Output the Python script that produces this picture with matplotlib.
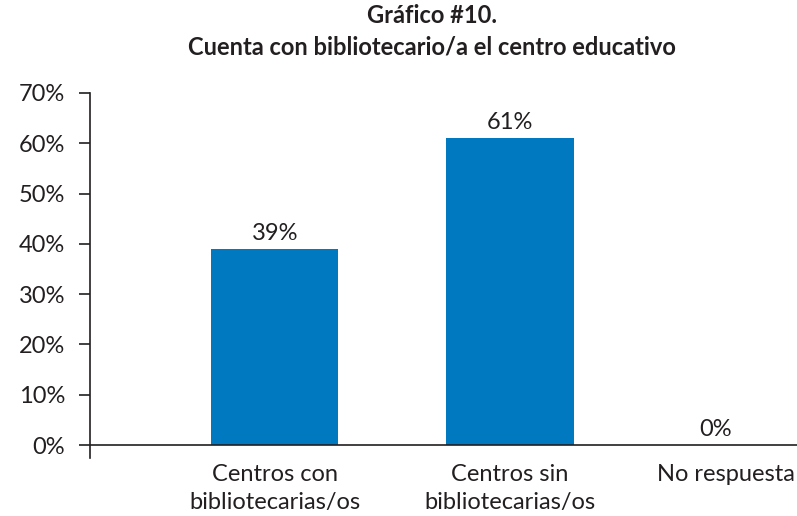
import numpy as np
import matplotlib.pyplot as plt
from matplotlib.transforms import ScaledTranslation

plt.rcParams['font.family'] = ['Lato', 'DejaVu Sans']

# Datos del grafico
categorias = ["Centros con\nbibliotecarias/os", "Centros sin\nbibliotecarias/os", "No respuesta"]
valores = [39, 61, 0]
posiciones = [0, 1, 1.875]
yticks = [0, 10, 20, 30, 40, 50, 60, 70]

AZUL = "#0079C1"
TEXTO = "#231f20"

fig = plt.figure(figsize=(7.97, 5.16), dpi=100)
ax = fig.add_axes([0.113, 0.112, 0.887, 0.708])

ax.bar(posiciones, valores, width=0.54, color=AZUL, zorder=2)

for x, v in zip(posiciones, valores):
    ax.text(x, v + 1.0, f"{v}%", ha="center", va="bottom", fontsize=17, color=TEXTO)

ax.set_xlim(-0.785, 2.22)
ax.set_ylim(-2.6, 70)
ax.axhline(0, color=TEXTO, lw=1.2, zorder=3)

ax.set_yticks(yticks)
ax.set_yticklabels([f"{t}%" for t in yticks], fontsize=17, color=TEXTO)
ax.tick_params(axis="y", direction="out", length=8, width=1.2, color=TEXTO, pad=10)

ax.set_xticks(posiciones)
ax.set_xticklabels(categorias, fontsize=17, color=TEXTO, linespacing=1.42)
ax.tick_params(axis="x", length=0, pad=4)

# la ultima etiqueta va un poco a la derecha
lbl = ax.get_xticklabels()[2]
lbl.set_transform(lbl.get_transform() + ScaledTranslation(0.1, 0, fig.dpi_scale_trans))

for s in ["top", "right", "bottom"]:
    ax.spines[s].set_visible(False)
ax.spines["left"].set_color(TEXTO)
ax.spines["left"].set_linewidth(1.2)

fig.text(0.542, 0.970, "Gráfico #10.", ha="center", va="center",
         fontsize=17, fontweight="bold", color=TEXTO)
fig.text(0.542, 0.909, "Cuenta con bibliotecario/a el centro educativo", ha="center",
         va="center", fontsize=17, fontweight="bold", color=TEXTO)

fig.savefig("out.png", dpi=100)
